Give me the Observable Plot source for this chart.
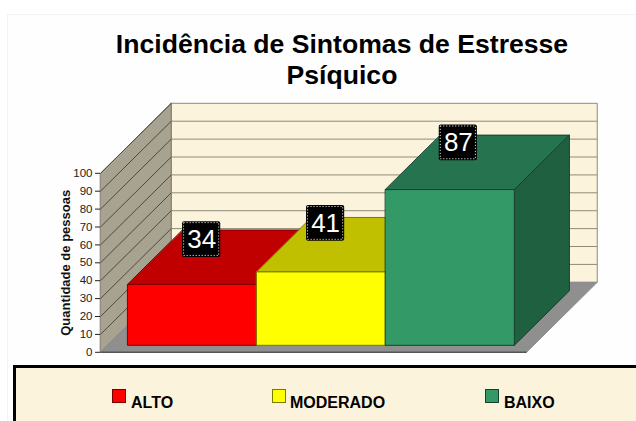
<!DOCTYPE html>
<html><head><meta charset="utf-8">
<script src="https://cdn.jsdelivr.net/npm/d3@7"></script>
<script src="https://cdn.jsdelivr.net/npm/@observablehq/plot@0.6"></script>
<style>
html,body{margin:0;padding:0;background:#fff;width:636px;height:421px;overflow:hidden;font-family:"Liberation Sans",Arial,sans-serif}
#frame{position:absolute;left:7px;top:14px;width:640px;height:420px;background:#fefefe;border:1px solid #f3f3f3}
#title{position:absolute;left:0;top:29px;width:684px;text-align:center;font-size:26.6px;line-height:31px;font-weight:bold;color:#000}
#chart{position:absolute;left:0;top:90px}
#legend{position:absolute;left:13px;top:365px;width:640px;height:80px;background:#fcf3dd;border:3px solid #000}
.sw{position:absolute;top:389px;width:12px;height:12px;border:1px solid}
.lb{position:absolute;top:394px;font-size:16px;line-height:18px;font-weight:bold;color:#000}
</style></head><body>
<div id="frame"></div>
<div id="title">Incidência de Sintomas de Estresse<br>Psíquico</div>
<div id="chart"></div>
<div id="legend"></div>
<script>
const categories = ["ALTO", "MODERADO", "BAIXO"];
const values = [34, 41, 87];
const frontColors = ["#ff0000", "#ffff00", "#339966"];
const topColors = ["#c00000", "#c0c000", "#267350"];
const sideColors = ["#a00000", "#a0a000", "#1f6040"];
const edgeColors = ["#7a0000", "#7a7a00", "#17402c"];
const yTicks = [0, 10, 20, 30, 40, 50, 60, 70, 80, 90, 100];
const yTitle = "Quantidade de pessoas";

// Oblique projection, in data units: bar width = 1 on x, value on y
const uL = -0.157, uR = 3.149;      // floor extent
const kx = 0.549, ky = 39.1;        // shift of one unit of depth
const d0 = 0.1, d1 = 0.878;         // bar depth span
const P = (u, v, d) => ({x: u + d * kx, y: v + d * ky});

const faces = [];
const face = (id, fill, stroke, pts) => pts.forEach(p => faces.push({id, fill, stroke, ...p}));
// back wall, side wall, floor
face("back", "#fcf3dd", "#8f8a7a", [P(uL,0,1), P(uR,0,1), P(uR,100,1), P(uL,100,1)]);
face("side", "#a8a291", "#77735f", [P(uL,0,0), P(uL,0,1), P(uL,100,1), P(uL,100,0)]);
face("floor", "#8f8f8f", "#8f8f8f", [P(uL,0,0), P(uR,0,0), P(uR,0,1), P(uL,0,1)]);
// bars
values.forEach((v, i) => {
  const a = i, b = i + 1;
  face("top"+i, topColors[i], edgeColors[i], [P(a,v,d0), P(b,v,d0), P(b,v,d1), P(a,v,d1)]);
  face("sid"+i, sideColors[i], edgeColors[i], [P(b,0,d0), P(b,0,d1), P(b,v,d1), P(b,v,d0)]);
  face("fro"+i, frontColors[i], edgeColors[i], [P(a,0,d0), P(b,0,d0), P(b,v,d0), P(a,v,d0)]);
});
const gridRows = yTicks.slice(1, -1);
const gridBack = gridRows.map(v => ({a: P(uL,v,1), b: P(uR,v,1)}));
const gridSide = yTicks.slice(1).map(v => ({a: P(uL,v,0), b: P(uL,v,1)}));

// value labels: position relative to each bar's top
const labelU = [0.628, 1.590, 2.620];
const labelV = [29, 31, 30];
const boxW = 0.148, boxH = 20;
const labels = values.map((v, i) => ({v, u: labelU[i], y: v + labelV[i]}));

const plot = Plot.plot({
  width: 636, height: 275,
  marginLeft: 100, marginRight: 110, marginTop: 0, marginBottom: 0,
  x: {type: "linear", domain: [uL, uR], range: [100, 526], axis: null},
  y: {type: "linear", domain: [0, 100], range: [261.8, 82.8]},
  color: {type: "identity"},
  style: {background: "transparent", overflow: "visible"},
  marks: [
    Plot.line(faces.filter(f => ["back","side","floor"].includes(f.id)), {x:"x", y:"y", z:"id", fill:"fill", stroke:"stroke", curve:"linear-closed", strokeWidth:1}),
    Plot.link(gridBack, {x1:d=>d.a.x, y1:d=>d.a.y, x2:d=>d.b.x, y2:d=>d.b.y, stroke:"#8f8a7a", strokeWidth:1}),
    Plot.link(gridSide, {x1:d=>d.a.x, y1:d=>d.a.y, x2:d=>d.b.x, y2:d=>d.b.y, stroke:"#4e4a3c", strokeWidth:1}),
    Plot.link([{a:P(uL,0,0), b:P(uR,0,0)}], {x1:d=>d.a.x, y1:d=>d.a.y, x2:d=>d.b.x, y2:d=>d.b.y, stroke:"#555", strokeWidth:1.5}),
    Plot.line(faces.filter(f => !["back","side","floor"].includes(f.id)), {x:"x", y:"y", z:"id", fill:"fill", stroke:"stroke", curve:"linear-closed", strokeWidth:1}),
    Plot.axisY({ticks: yTicks, tickSize: 5, tickPadding: 3, label: null, fontSize: 11.5, fontFamily: "Liberation Sans", stroke: "#222", fill: "#222"}),
    Plot.text([yTitle], {x: uL, y: 50, dx: -35, rotate: -90, text: d => d, fontSize: 13, fontWeight: "bold", fontFamily: "Liberation Sans", fill: "#111"}),
    Plot.rect(labels, {x1:d=>d.u-boxW, x2:d=>d.u+boxW, y1:d=>d.y-boxH/2, y2:d=>d.y+boxH/2, fill:"#000", rx:2}),
    Plot.rect(labels, {x1:d=>d.u-boxW, x2:d=>d.u+boxW, y1:d=>d.y-boxH/2, y2:d=>d.y+boxH/2, inset:1.5, fill:"none", stroke:"#fff", strokeWidth:1, strokeDasharray:"1 2"}),
    Plot.text(labels, {x:"u", y:"y", text:d=>String(d.v), fill:"#fff", fontSize:26, fontFamily:"Liberation Sans"})
  ]
});
document.getElementById("chart").append(plot);

const swLeft = [112, 272, 485], lbLeft = [131, 290, 504];
categories.forEach((c, i) => {
  const s = document.createElement("div");
  s.className = "sw"; s.style.left = swLeft[i]+"px"; s.style.background = frontColors[i]; s.style.borderColor = edgeColors[i];
  const t = document.createElement("div");
  t.className = "lb"; t.style.left = lbLeft[i]+"px"; t.textContent = c;
  document.body.append(s, t);
});
</script>
</body></html>
